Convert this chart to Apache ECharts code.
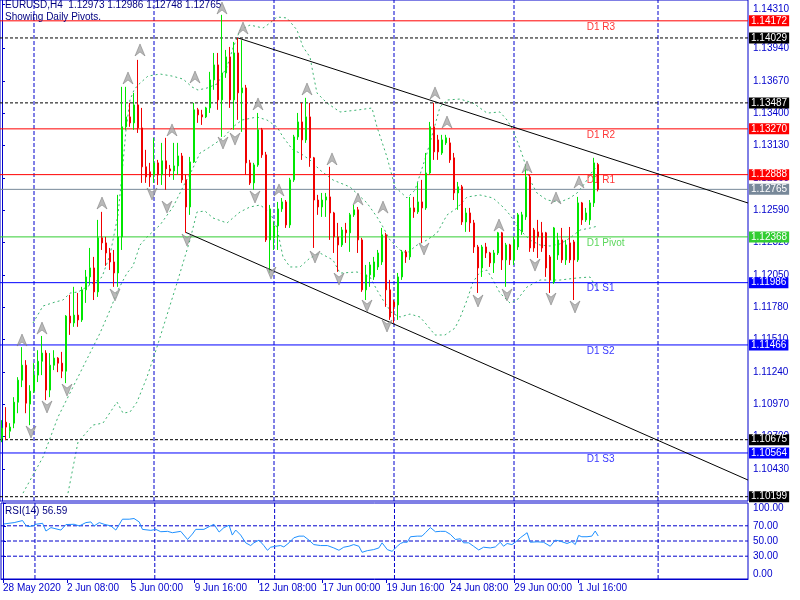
<!DOCTYPE html>
<html><head><meta charset="utf-8">
<script src="https://cdn.jsdelivr.net/npm/echarts@6.0.0/dist/echarts.min.js"></script>
<style>html,body{margin:0;padding:0;background:#fff}#c{width:800px;height:600px}</style>
</head><body><div id="c"></div>
<script>
// ---------- DATA ----------
const titleLine1 = 'EURUSD,H4  1.12973 1.12986 1.12748 1.12765';
const titleLine2 = 'Showing Daily Pivots.';
const rsiTitle = 'RSI(14) 56.59';

// H4 candles: [open, close, low, high]
const ohlc = [
[1.10688,1.10771,1.10654,1.10838],[1.10821,1.10780,1.10671,1.10947],[1.10746,1.10780,1.10688,1.10813],[1.10813,1.10988,1.10771,1.11030],
[1.10988,1.11172,1.10896,1.11197],[1.11172,1.11297,1.11114,1.11448],[1.11297,1.10980,1.10896,1.11339],[1.10972,1.11080,1.10796,1.11130],
[1.11080,1.11214,1.11064,1.11314],[1.11214,1.11330,1.11156,1.11422],[1.11330,1.11398,1.11214,1.11541],[1.11398,1.11089,1.11005,1.11422],
[1.11089,1.11297,1.11030,1.11398],[1.11297,1.11356,1.11256,1.11422],[1.11356,1.11314,1.11239,1.11364],[1.11314,1.11247,1.11189,1.11408],
[1.11247,1.11707,1.11147,1.11715],[1.11707,1.11650,1.11550,1.11884],[1.11650,1.11715,1.11617,1.11951],[1.11715,1.11675,1.11617,1.11900],
[1.11675,1.11926,1.11658,1.11951],[1.11926,1.12034,1.11817,1.12092],[1.12034,1.12109,1.11967,1.12276],[1.12109,1.11909,1.11841,1.12201],
[1.11909,1.12360,1.11867,1.12510],[1.12360,1.12318,1.12259,1.12577],[1.12318,1.12234,1.12126,1.12368],[1.12234,1.12159,1.12092,1.12276],
[1.12159,1.12067,1.11951,1.12259],[1.12067,1.12368,1.11951,1.12719],[1.12368,1.13287,1.12259,1.13621],[1.13287,1.13370,1.13262,1.13621],
[1.13370,1.13320,1.13287,1.13487],[1.13320,1.13470,1.13262,1.13570],[1.13470,1.13278,1.13236,1.13846],[1.13278,1.12953,1.12819,1.13445],
[1.12953,1.12869,1.12819,1.13095],[1.12911,1.12869,1.12786,1.12986],[1.12886,1.12986,1.12819,1.13195],[1.12986,1.12886,1.12802,1.13011],
[1.12886,1.13003,1.12802,1.13153],[1.13003,1.12936,1.12761,1.13195],[1.12936,1.12919,1.12869,1.12969],[1.12919,1.12961,1.12844,1.13153],
[1.12961,1.13044,1.12886,1.13153],[1.13044,1.12844,1.12819,1.13069],[1.12844,1.12618,1.12402,1.12886],[1.12618,1.12994,1.12552,1.13036],
[1.12994,1.13429,1.12986,1.13487],[1.13429,1.13387,1.13320,1.13445],[1.13387,1.13370,1.13303,1.13429],[1.13370,1.13445,1.13360,1.13454],
[1.13445,1.13679,1.13403,1.13746],[1.13679,1.13804,1.13596,1.13904],[1.13804,1.13512,1.13429,1.13904],[1.13512,1.13737,1.13203,1.14222],
[1.13737,1.13871,1.13696,1.13929],[1.13871,1.13512,1.13445,1.13954],[1.13512,1.13904,1.13262,1.13996],[1.13904,1.13571,1.13345,1.14029],
[1.13571,1.13612,1.13245,1.14010],[1.13612,1.12986,1.12886,1.13637],[1.12986,1.12819,1.12802,1.13011],[1.12819,1.12969,1.12761,1.12986],
[1.12969,1.13262,1.12953,1.13403],[1.13262,1.13053,1.13028,1.13278],[1.13053,1.12343,1.12326,1.13078],[1.12343,1.12602,1.12067,1.12635],
[1.12360,1.12460,1.12259,1.12493],[1.12460,1.12602,1.12259,1.12660],[1.12602,1.12660,1.12577,1.12693],[1.12660,1.12468,1.12443,1.12676],
[1.12468,1.12844,1.12443,1.12861],[1.12844,1.13203,1.12827,1.13220],[1.13203,1.13328,1.13178,1.13403],[1.13328,1.13178,1.13011,1.13487],
[1.13178,1.13370,1.13153,1.13529],[1.13370,1.13028,1.12953,1.13487],[1.13028,1.12676,1.12276,1.13036],[1.12676,1.12618,1.12552,1.12719],
[1.12618,1.12676,1.12535,1.12735],[1.12676,1.12702,1.12535,1.12735],[1.12702,1.12568,1.12343,1.12953],[1.12568,1.12368,1.12234,1.12577],
[1.12368,1.12301,1.12076,1.12485],[1.12301,1.12426,1.12284,1.12451],[1.12426,1.12402,1.12318,1.12485],[1.12402,1.12552,1.12243,1.12568],
[1.12552,1.12594,1.12535,1.12635],[1.12594,1.12343,1.12234,1.12618],[1.12343,1.11926,1.11909,1.12360],[1.11926,1.12051,1.11841,1.12134],
[1.12051,1.12134,1.11951,1.12159],[1.12034,1.12159,1.12009,1.12201],[1.12117,1.12234,1.12092,1.12259],[1.12159,1.12385,1.12134,1.12443],
[1.12385,1.11926,1.11784,1.12402],[1.11926,1.11700,1.11675,1.12009],[1.11824,1.11784,1.11650,1.11841],[1.11800,1.12034,1.11675,1.12067],
[1.12034,1.12243,1.12009,1.12259],[1.12243,1.12201,1.12151,1.12259],[1.12201,1.12610,1.12176,1.12702],[1.12610,1.12577,1.12527,1.12702],
[1.12577,1.12660,1.12560,1.12819],[1.12660,1.12610,1.12318,1.12844],[1.12610,1.12902,1.12594,1.13069],[1.12902,1.13287,1.12886,1.13328],
[1.13287,1.13078,1.13011,1.13487],[1.13178,1.13078,1.13011,1.13220],[1.13069,1.13178,1.13053,1.13220],[1.13153,1.13195,1.13136,1.13220],
[1.13153,1.13011,1.12986,1.13195],[1.13028,1.12735,1.12676,1.13069],[1.12735,1.12786,1.12594,1.12827],[1.12786,1.12493,1.12468,1.12802],
[1.12493,1.12568,1.12410,1.12610],[1.12568,1.12485,1.12410,1.12610],[1.12485,1.12284,1.12234,1.12510],[1.12284,1.12109,1.11900,1.12301],
[1.12109,1.12284,1.12034,1.12301],[1.12284,1.12234,1.12192,1.12318],[1.12234,1.12151,1.12117,1.12243],[1.12151,1.12234,1.12067,1.12259],
[1.12234,1.12402,1.12217,1.12410],[1.12402,1.12176,1.12092,1.12410],[1.12176,1.12301,1.11951,1.12318],[1.12301,1.12176,1.12134,1.12310],
[1.12176,1.12343,1.12134,1.12368],[1.12284,1.12552,1.12259,1.12568],[1.12410,1.12552,1.12385,1.12577],[1.12535,1.12869,1.12510,1.12969],
[1.12869,1.12276,1.12243,1.12886],[1.12426,1.12276,1.12243,1.12443],[1.12410,1.12368,1.12192,1.12510],[1.12402,1.12276,1.12243,1.12493],
[1.12402,1.12109,1.12034,1.12410],[1.12201,1.12009,1.11900,1.12217],[1.11992,1.12443,1.11976,1.12451],[1.12217,1.12343,1.12176,1.12402],
[1.12343,1.12176,1.12151,1.12443],[1.12176,1.12301,1.12134,1.12343],[1.12318,1.12176,1.12151,1.12451],[1.12326,1.12176,1.11841,1.12343],
[1.12176,1.12652,1.12159,1.12702],[1.12652,1.12510,1.12468,1.12660],[1.12510,1.12568,1.12493,1.12610],[1.12510,1.12652,1.12468,1.12676],
[1.12652,1.12986,1.12618,1.13028],[1.12973,1.12765,1.12748,1.12986]
];
const futureSlots = 37;               // empty H4 slots to the right of the last bar

// Bollinger bands: [bar position, price]
const bbUpper = [[7.75,1.11649],[10.25,1.11791],[13.25,1.11824],[15.25,1.11841],[17,1.11899],[19,1.11908],[22,1.11966],[25,1.12033],[27,1.12217],[29,1.12551],[30,1.12893],[31,1.13260],[32,1.13511],[33,1.13594],[34,1.13636],[36.5,1.13711],[39.5,1.13728],[42.5,1.13711],[45.25,1.13686],[47.5,1.13620],[49,1.13594],[51.25,1.13611],[53.75,1.13645],[56.25,1.13787],[57.75,1.13945],[59.5,1.14095],[62,1.14137],[65.25,1.14112],[67,1.14154],[68.75,1.14204],[71.25,1.14196],[73.75,1.14095],[75.25,1.13954],[77,1.13870],[77.75,1.13736],[78.75,1.13569],[81.25,1.13486],[84.5,1.13411],[88.75,1.13427],[92.5,1.13444],[93.75,1.13286],[96.25,1.13035],[98.25,1.12785],[101.25,1.12693],[103.25,1.12759],[106.25,1.13068],[108.25,1.13302],[109.5,1.13453],[111.25,1.13511],[114.5,1.13519],[117.75,1.13486],[121.25,1.13402],[124.5,1.13411],[126.25,1.13344],[127.75,1.13260],[129,1.13152],[130.25,1.13035],[132,1.12843],[133.75,1.12734],[136.25,1.12676],[139.5,1.12659],[142,1.12693],[143.75,1.12734],[145.75,1.12818],[147.5,1.12910],[149,1.12968]];
const bbMiddle = [[5.25,1.10229],[10.25,1.10530],[14,1.10864],[17.75,1.11115],[21.5,1.11365],[24.5,1.11565],[27,1.11757],[29,1.11924],[31.25,1.12066],[32.75,1.12125],[34.5,1.12300],[36.25,1.12367],[39.5,1.12467],[42.75,1.12618],[45.75,1.12818],[47.5,1.12926],[49.5,1.13068],[52,1.13119],[55.25,1.13194],[57.75,1.13286],[60,1.13344],[63.75,1.13369],[66.25,1.13344],[68.75,1.13286],[70.25,1.13202],[72.75,1.13093],[74.5,1.13068],[77,1.13010],[79.5,1.12926],[82.75,1.12843],[87,1.12785],[91.25,1.12651],[93.75,1.12534],[95.25,1.12451],[97,1.12342],[99.5,1.12258],[101.25,1.12233],[103.75,1.12300],[106.25,1.12342],[108.75,1.12400],[111.25,1.12551],[113.75,1.12609],[116.25,1.12701],[119.5,1.12718],[122.75,1.12693],[125.25,1.12618],[127,1.12551],[129.5,1.12425],[132,1.12342],[134.5,1.12300],[137,1.12292],[139.5,1.12309],[142,1.12359],[144.5,1.12425],[147,1.12442],[149,1.12459]];
const bbLower = [[16.5,1.10229],[19,1.10655],[22.75,1.10797],[25.25,1.10814],[28.75,1.10989],[30.25,1.10897],[32,1.10906],[33.75,1.10989],[36.25,1.11198],[38.75,1.11449],[41.25,1.11716],[43.75,1.11983],[45.25,1.12150],[47,1.12342],[48.75,1.12576],[50.75,1.12584],[52.75,1.12526],[56.25,1.12484],[59.5,1.12576],[62,1.12618],[64.5,1.12634],[67,1.12576],[68.75,1.12442],[70.25,1.12200],[72,1.12117],[74.5,1.12117],[77,1.12192],[79.5,1.12233],[82.75,1.12175],[84.5,1.12066],[88.75,1.12075],[92,1.12033],[93.75,1.11924],[95.25,1.11841],[97.5,1.11732],[99.5,1.11699],[102,1.11724],[104.5,1.11699],[106.25,1.11632],[108.25,1.11549],[110.75,1.11549],[113.25,1.11607],[114.5,1.11691],[116.25,1.11841],[117.75,1.11991],[119.5,1.12075],[121.25,1.12091],[122.75,1.12008],[124.5,1.11899],[127,1.11816],[128.75,1.11841],[131.25,1.11950],[134.5,1.12008],[139.5,1.12008],[143.75,1.12025],[147,1.12033],[149,1.11924]];

// horizontal levels
const pivotNames  = ['D1 R3','D1 R2','D1 R1','D1 Pivot','D1 S1','D1 S2','D1 S3'];
const pivotValues = [1.14172,1.13270,1.12888,1.12368,1.11986,1.11466,1.10564];
const hLineValues = [1.14029,1.13487,1.10675,1.10199];
const currentPrice = 1.12765;

// trend channel: [bar position, price]
const upperChannel = [[59,1.14029],[186.5,1.12651]];
const lowerChannel = [[46,1.12405],[186.5,1.10338]];

// fractals: [bar position, price]
const fractalUp = [[5,1.11507],[10,1.11607],[25,1.12651],[31.5,1.13695],[34.5,1.13929],[42.5,1.13261],[48.25,1.13703],[55,1.14279],[60.25,1.14112],[64,1.13478],[69.25,1.12760],[76.25,1.13603],[82.5,1.13019],[89,1.12684],[95.25,1.12617],[108.25,1.13570],[111.25,1.13327],[124.25,1.12467],[131.25,1.12952],[138.5,1.12693],[144.25,1.12826]];
const fractalDown = [[7.25,1.10739],[11.25,1.10948],[16.25,1.11089],[28.25,1.11883],[37.5,1.12726],[41.25,1.12617],[46.25,1.12342],[55.25,1.13152],[58.25,1.13185],[63.25,1.12701],[67.25,1.12066],[78.25,1.12200],[84.25,1.12016],[91.25,1.11791],[96.25,1.11624],[105.5,1.12267],[119,1.11833],[126.25,1.11883],[133.25,1.12133],[137.25,1.11849],[143.25,1.11783]];

// RSI(14) readings: [bar position, value]
const rsiPoints = [[0.2,72.4],[2.8,74.2],[4.9,76.9],[5.5,72.0],[6.2,68.9],[7.4,69.8],[8.25,72.0],[9.9,73.3],[10.75,63.1],[12,67.6],[14.5,64.4],[15.75,71.6],[17.8,72.0],[19.1,69.8],[20.75,74.2],[22,75.1],[22.8,69.8],[24.1,74.2],[25.3,72.0],[27,69.8],[28.25,64.4],[29.9,78.7],[31.6,78.7],[32.8,79.6],[34.1,75.1],[34.9,65.3],[37,64.0],[38.25,65.3],[39.5,62.2],[41.2,62.7],[42.4,60.9],[44.5,62.7],[46.2,52.0],[47.4,59.1],[48.25,65.3],[50.3,65.3],[51.6,68.9],[52.8,72.0],[54.1,61.8],[55.3,67.6],[56.6,70.7],[57.4,57.8],[58.25,64.4],[59.5,57.8],[60.75,47.6],[62,44.0],[62.8,47.6],[64.1,51.1],[65.3,44.0],[66.2,37.8],[67,41.8],[68.25,43.1],[69.5,44.0],[70.3,42.2],[71.6,47.6],[72.8,54.2],[74.1,56.4],[75.3,56.4],[76.6,51.1],[77.8,45.3],[79.5,44.0],[81.2,44.0],[82.8,40.9],[84.1,37.8],[85.3,41.8],[86.6,43.1],[87.8,45.3],[89.1,43.1],[89.9,35.1],[91.2,37.3],[92.8,38.7],[94.1,40.9],[94.9,47.6],[96.2,38.7],[97.4,36.4],[98.7,43.1],[99.5,46.7],[100.3,48.4],[101.2,48.4],[102,55.6],[103.7,56.4],[104.9,56.4],[105.75,60.9],[107,67.6],[108.25,62.2],[109.5,62.7],[110.75,62.7],[112,58.7],[113.25,52.0],[114.5,52.9],[115.3,47.6],[116.6,47.6],[117.8,43.1],[119.1,38.2],[120.3,41.8],[122,40.9],[123.25,42.2],[124.5,48.4],[125.3,43.1],[126.2,46.7],[127.4,45.3],[128.25,48.4],[129.5,54.2],[131.2,60.9],[132,48.4],[133.7,48.9],[135.3,48.4],[137,43.1],[138.25,51.1],[139.5,49.8],[141.2,46.7],[142.4,49.3],[143.25,45.3],[144.1,57.3],[144.9,55.6],[146.2,55.6],[147.4,56.4],[148.25,63.1],[149,56.59]];

// axes
const priceTicks = [1.10430,1.10700,1.10970,1.11240,1.11510,1.11780,1.12050,1.12320,1.12590,1.12860,1.13130,1.13400,1.13670,1.13940,1.14310];
const priceMin = 1.10163, priceMax = 1.14346;
const rsiTicks = [0,30,50,70,100];
const rsiMin = 0, rsiMax = 100;
const rsiLevels = [70,50,30];
const timeTickIdx = [0,16,32,48,64,80,96,112,128,144];
const timeTickText = ['28 May 2020','2 Jun 08:00','5 Jun 00:00','9 Jun 16:00','12 Jun 08:00','17 Jun 00:00','19 Jun 16:00','24 Jun 08:00','29 Jun 00:00','1 Jul 16:00'];
const weekStartIdx = [8,38,68,98,128,164];

// ---------- STYLE ----------
const FONT = '"Liberation Sans", Arial, sans-serif';
const BLUE = '#0000CC';
const BULL = '#00E600', BEAR = '#F00000';
const C_R = '#FF0000', C_P = '#32CD32', C_S = '#0000FF', C_CUR = '#778899', C_H = '#000000';
const C_BB = '#3CB371';
const nSlots = ohlc.length + futureSlots;
const xLo = -0.5, xHi = nSlots - 0.5;
const slots = Array.from({length: nSlots}, (_, i) => String(i));
const pivotColor = n => n.indexOf('R') > 0 ? C_R : (n.indexOf('Pivot') > 0 ? C_P : C_S);

// horizontal price level drawn across the whole axis, with a price tag on the right
function level(v, color, dashed) {
  return {type: 'line', xAxisIndex: 1, yAxisIndex: 0, data: [[xLo, v], [xHi, v]], symbol: 'none', silent: true, z: 3,
    clip: false, lineStyle: {color: color, width: 1, type: dashed ? [3, 2] : 'solid'},
    endLabel: {show: true, formatter: v.toFixed(5), distance: 1, color: '#fff', backgroundColor: color,
      padding: [1, 2, 0, 2], fontSize: 10, lineHeight: 10, fontFamily: FONT}};
}
function vline(xAxisIndex, yAxisIndex, x, lo, hi) {
  return {type: 'line', xAxisIndex: xAxisIndex, yAxisIndex: yAxisIndex, data: [[x, lo], [x, hi]], symbol: 'none',
    silent: true, z: 1, lineStyle: {color: BLUE, width: 1, type: [4, 2]}};
}
function hgrid(v) {
  return {type: 'line', xAxisIndex: 2, yAxisIndex: 1, data: [[xLo, v], [xHi, v]], symbol: 'none',
    silent: true, z: 1, lineStyle: {color: BLUE, width: 1, type: [4, 2]}};
}
function band(data) {
  return {type: 'line', xAxisIndex: 1, yAxisIndex: 0, data: data, symbol: 'none', z: 2, silent: true,
    lineStyle: {color: C_BB, width: 1, type: [2, 3]}};
}

const upArrow = 'path://M5,0 L10,12 L5,8 L0,12 Z';
const downArrow = 'path://M0,0 L5,4 L10,0 L5,12 Z';

const series = [];
weekStartIdx.forEach(w => { series.push(vline(1, 0, w, priceMin, priceMax)); series.push(vline(2, 1, w, rsiMin, rsiMax)); });
rsiLevels.forEach(v => series.push(hgrid(v)));
series.push({type: 'scatter', xAxisIndex: 1, yAxisIndex: 0, symbolSize: 0, silent: true, z: 2,
  data: pivotNames.map((n, k) => ({value: [146.2, pivotValues[k]],
    label: {show: true, formatter: n, position: [0, 1], color: pivotColor(n), fontSize: 10, fontFamily: FONT}}))});
series.push(band(bbUpper), band(bbMiddle), band(bbLower));
pivotNames.forEach((n, k) => series.push(level(pivotValues[k], pivotColor(n), false)));
hLineValues.forEach(v => series.push(level(v, C_H, true)));
series.push(level(currentPrice, C_CUR, false));
series.push({type: 'candlestick', xAxisIndex: 0, yAxisIndex: 0, data: ohlc, barWidth: 2.4, z: 4,
  itemStyle: {color: BULL, color0: BEAR, borderColor: BULL, borderColor0: BEAR, borderWidth: 1}});
series.push({type: 'line', xAxisIndex: 1, yAxisIndex: 0, data: upperChannel, symbol: 'none', z: 5, silent: true,
  lineStyle: {color: '#000', width: 1}});
series.push({type: 'line', xAxisIndex: 1, yAxisIndex: 0, data: lowerChannel, symbol: 'none', z: 5, silent: true,
  lineStyle: {color: '#000', width: 1}});
series.push({type: 'scatter', xAxisIndex: 1, yAxisIndex: 0, data: fractalUp, symbol: upArrow, symbolSize: [10, 12], z: 6,
  itemStyle: {color: '#A8A8A8', borderColor: '#6E6E6E', borderWidth: 0.6}});
series.push({type: 'scatter', xAxisIndex: 1, yAxisIndex: 0, data: fractalDown, symbol: downArrow, symbolSize: [10, 12], z: 6,
  itemStyle: {color: '#A8A8A8', borderColor: '#6E6E6E', borderWidth: 0.6}});
series.push({type: 'line', xAxisIndex: 2, yAxisIndex: 1, data: rsiPoints, symbol: 'none', z: 5,
  lineStyle: {color: '#1E90FF', width: 1}});

const chart = echarts.init(document.getElementById('c'), null, {renderer: 'canvas'});
chart.setOption({
  animation: false,
  backgroundColor: '#ffffff',
  textStyle: {fontFamily: FONT},
  title: [
    {text: titleLine1, left: 5, top: 0, padding: 0, textStyle: {fontSize: 10, fontWeight: 'normal', color: '#000080', fontFamily: FONT}},
    {text: titleLine2, left: 5, top: 12, padding: 0, textStyle: {fontSize: 10, fontWeight: 'normal', color: '#000080', fontFamily: FONT}},
    {text: rsiTitle, left: 5, top: 506, padding: 0, textStyle: {fontSize: 10, fontWeight: 'normal', color: '#000080', fontFamily: FONT}}
  ],
  grid: [
    {left: 0, top: 0, width: 748, height: 501, show: true, borderColor: BLUE, borderWidth: 1, backgroundColor: 'transparent'},
    {left: 0, top: 503, width: 748, height: 76, show: true, borderColor: BLUE, borderWidth: 1, backgroundColor: 'transparent'}
  ],
  xAxis: [
    {type: 'category', gridIndex: 0, data: slots, boundaryGap: true, show: false},
    {type: 'value', gridIndex: 0, min: xLo, max: xHi, show: false},
    {type: 'value', gridIndex: 1, min: xLo, max: xHi, position: 'bottom',
      axisLine: {show: true, lineStyle: {color: BLUE}},
      axisTick: {show: true, customValues: timeTickIdx, length: 4, lineStyle: {color: BLUE}},
      axisLabel: {customValues: timeTickIdx, formatter: v => timeTickText[timeTickIdx.indexOf(Math.round(v))] || '',
        align: 'left', color: BLUE, fontSize: 10, margin: 4, fontFamily: FONT},
      splitLine: {show: false}}
  ],
  yAxis: [
    {type: 'value', gridIndex: 0, position: 'right', min: priceMin, max: priceMax, scale: true,
      axisLine: {show: true, lineStyle: {color: BLUE}},
      axisTick: {show: true, customValues: priceTicks, length: 3, lineStyle: {color: BLUE}},
      axisLabel: {customValues: priceTicks, formatter: v => v.toFixed(5), color: BLUE, fontSize: 10, margin: 5, fontFamily: FONT,
        verticalAlignMaxLabel: 'top'},
      splitLine: {show: false}},
    {type: 'value', gridIndex: 1, position: 'right', min: rsiMin, max: rsiMax,
      axisLine: {show: true, lineStyle: {color: BLUE}},
      axisTick: {show: true, customValues: rsiTicks, length: 3, lineStyle: {color: BLUE}},
      axisLabel: {customValues: rsiTicks, formatter: v => v.toFixed(2), color: BLUE, fontSize: 10, margin: 5, fontFamily: FONT,
        verticalAlignMaxLabel: 'top', verticalAlignMinLabel: 'bottom'},
      splitLine: {show: false}}
  ],
  series: series
});
</script></body></html>
